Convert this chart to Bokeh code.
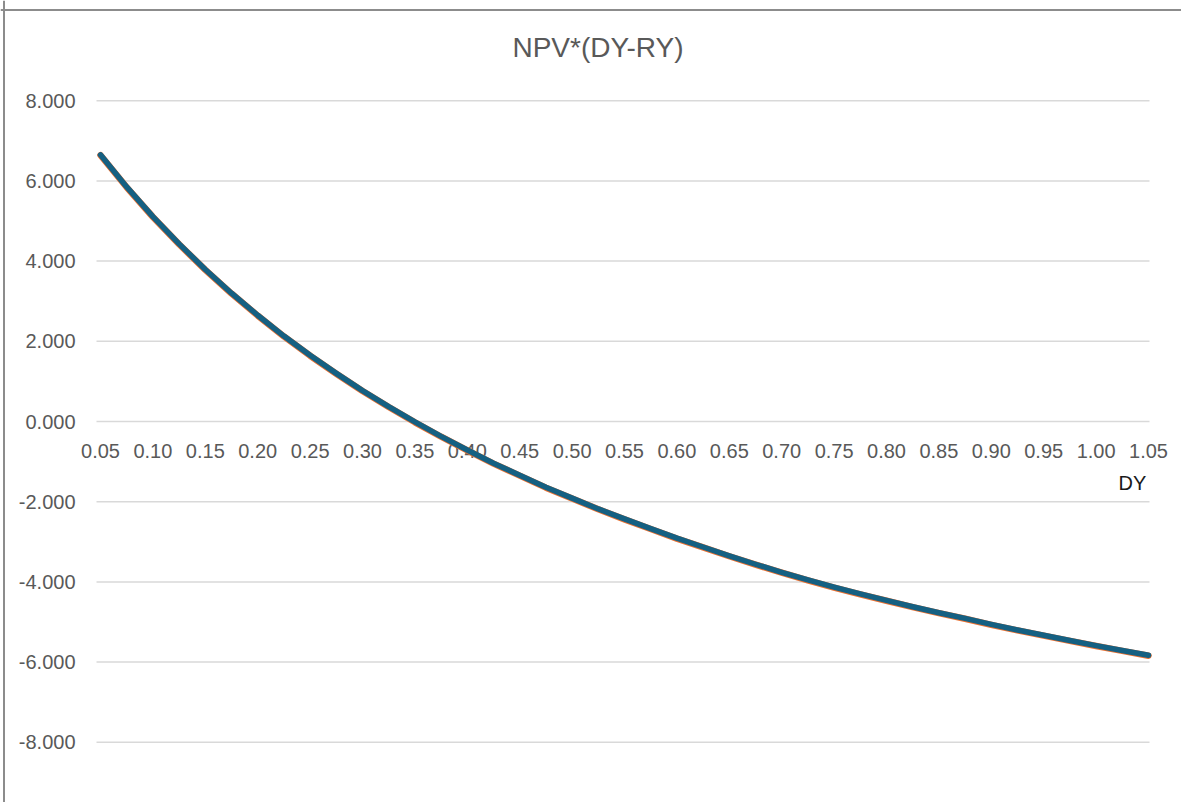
from bokeh.plotting import figure
from bokeh.models import Range1d, Span, ColumnDataSource
from bokeh.core.properties import value
from bokeh.embed import file_html
from bokeh.resources import INLINE

# ---- data ----
dy = [0.050, 0.075, 0.100, 0.125, 0.150, 0.175, 0.200, 0.225, 0.250, 0.275,
      0.300, 0.325, 0.350, 0.375, 0.400, 0.425, 0.450, 0.475, 0.500, 0.525,
      0.550, 0.575, 0.600, 0.625, 0.650, 0.675, 0.700, 0.725, 0.750, 0.775,
      0.800, 0.825, 0.850, 0.875, 0.900, 0.925, 0.950, 0.975, 1.000, 1.025, 1.050]
npv_blue = [6.65, 5.85, 5.11, 4.43, 3.79, 3.20, 2.65, 2.13, 1.65, 1.20,
            0.77, 0.37, -0.01, -0.37, -0.71, -1.04, -1.34, -1.64, -1.91, -2.18,
            -2.43, -2.67, -2.91, -3.13, -3.35, -3.56, -3.76, -3.95, -4.13, -4.30,
            -4.46, -4.62, -4.77, -4.91, -5.06, -5.20, -5.33, -5.46, -5.59, -5.71, -5.83]
npv_orange = [6.64, 5.84, 5.10, 4.42, 3.78, 3.19, 2.64, 2.12, 1.64, 1.19,
              0.76, 0.36, -0.02, -0.38, -0.72, -1.05, -1.35, -1.65, -1.92, -2.19,
              -2.44, -2.68, -2.92, -3.14, -3.36, -3.57, -3.77, -3.96, -4.14, -4.31,
              -4.47, -4.63, -4.78, -4.92, -5.07, -5.21, -5.34, -5.47, -5.60, -5.72, -5.84]
x_ticks = [0.05, 0.10, 0.15, 0.20, 0.25, 0.30, 0.35, 0.40, 0.45, 0.50, 0.55,
           0.60, 0.65, 0.70, 0.75, 0.80, 0.85, 0.90, 0.95, 1.00, 1.05]
x_tick_labels = ["%.2f" % t for t in x_ticks]
y_ticks = [-8, -6, -4, -2, 0, 2, 4, 6, 8]
y_tick_labels = ["%.3f" % t for t in y_ticks]
title_text = "NPV*(DY-RY)"
x_title = "DY"

FONT = "Liberation Sans"
GREY = "#595959"

W, H = 1181, 802
XPX = 1048.0   # pixels per x unit
YPX = 40.1     # pixels per y unit
x0 = 0.05 - 100 / XPX
y1 = 421 / YPX

p = figure(width=W, height=H, output_backend="svg", toolbar_location=None,
           x_range=Range1d(x0, x0 + W / XPX), y_range=Range1d(y1 - H / YPX, y1),
           x_axis_location=None, y_axis_location=None,
           min_border=0)
p.outline_line_color = None
p.grid.visible = False
p.background_fill_color = "white"
p.border_fill_color = "white"

# chart-area border (top and left)
p.add_layout(Span(location=y1 - 9.5 / YPX, dimension="width", line_color="#8c8c8c", line_width=2))
p.add_layout(Span(location=x0 + 3.5 / XPX, dimension="height", line_color="#8c8c8c", line_width=2))

# horizontal gridlines
gx0 = 0.05 - 4 / XPX
gx1 = 1.05 + 1 / XPX
p.segment(x0=[gx0] * len(y_ticks), x1=[gx1] * len(y_ticks), y0=y_ticks, y1=y_ticks,
          line_color="#d9d9d9", line_width=1.5)

# y tick labels
p.text(x=[0.05] * len(y_ticks), y=y_ticks, text=y_tick_labels, x_offset=-25,
       text_align="right", text_baseline="middle",
       text_font=value(FONT), text_font_size="20px", text_color=GREY)

# x tick labels along the zero line
src_ticks = ColumnDataSource(dict(x=x_ticks, y=[0] * len(x_ticks), t=x_tick_labels))
p.text(x="x", y="y", text="t", source=src_ticks, y_offset=29,
       text_align="center", text_baseline="middle",
       text_font=value(FONT), text_font_size="20px", text_color=GREY)

# series
p.line(dy, npv_orange, line_color="#E97132", line_width=6.5, line_cap="round", line_join="round")
p.line(dy, npv_blue, line_color="#156082", line_width=5.5, line_cap="round", line_join="round")

# title and axis title
p.text(x=[0.5247], y=[(421 - 47) / YPX], text=[title_text], text_align="center",
       text_baseline="middle", text_font=value(FONT), text_font_size="28px",
       text_color=GREY)
p.text(x=[1.048], y=[(421 - 482) / YPX], text=[x_title], text_align="right",
       text_baseline="middle", text_font=value(FONT), text_font_size="20px",
       text_color="#1a1a1a")

open("out.html", "w").write(file_html(p, INLINE))
